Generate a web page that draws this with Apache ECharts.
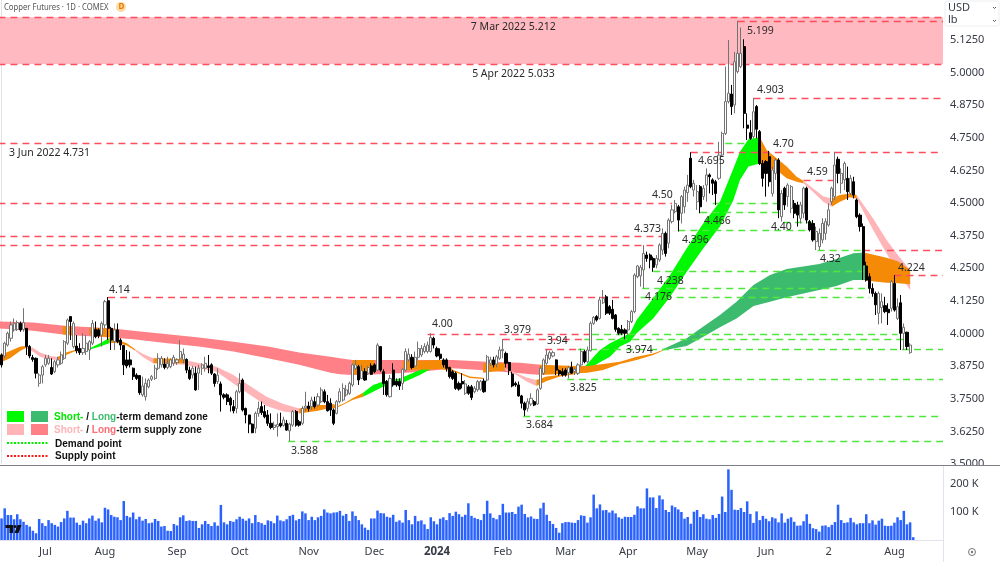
<!DOCTYPE html>
<html>
<head>
<meta charset="utf-8">
<title>Copper Futures</title>
<script src="https://cdn.jsdelivr.net/npm/echarts@6/dist/echarts.min.js"></script>
<style>
html,body{margin:0;padding:0;background:#fff}
#chart{width:1000px;height:562px}
</style>
</head>
<body>
<div id="chart"></div>
<script>
// Daily candles: [open, close, low, high]
const candles = [
[3.918,3.880,3.870,3.924],[3.914,3.963,3.905,3.969],[3.956,4.001,3.950,4.007],[3.982,4.033,3.969,4.046],[4.014,4.039,4.007,4.058],[4.016,4.042,4.010,4.050],[4.039,4.014,4.007,4.046],[4.016,4.042,4.007,4.097],[4.020,3.950,3.918,4.020],[3.950,3.914,3.905,3.956],
[3.908,3.901,3.892,3.918],[3.905,3.848,3.828,3.908],[3.809,3.841,3.796,3.848],[3.841,3.873,3.809,3.880],[3.880,3.905,3.873,3.918],[3.886,3.905,3.880,3.918],[3.870,3.845,3.841,3.905],[3.854,3.892,3.848,3.899],[3.880,3.899,3.870,3.911],[3.886,3.918,3.880,3.931],
[3.905,3.969,3.899,3.975],[3.963,4.052,3.956,4.058],[4.065,4.046,3.975,4.067],[3.950,4.039,3.943,4.046],[3.952,3.934,3.924,3.994],[3.943,3.927,3.918,3.963],[3.927,3.943,3.918,4.001],[3.931,3.963,3.918,3.994],[3.937,3.969,3.899,3.975],[3.963,4.039,3.956,4.052],
[4.016,3.988,3.982,4.046],[4.014,3.991,3.982,4.020],[3.994,4.039,3.950,4.046],[4.033,4.122,4.020,4.129],[4.126,4.020,3.975,4.140],[4.020,3.975,3.937,4.026],[3.969,4.014,3.937,4.039],[4.014,3.969,3.963,4.039],[3.975,3.956,3.937,3.982],[3.954,3.880,3.841,3.956],
[3.899,3.876,3.867,3.937],[3.899,3.880,3.870,3.931],[3.867,3.835,3.822,3.870],[3.841,3.828,3.822,3.848],[3.839,3.773,3.765,3.841],[3.765,3.799,3.758,3.835],[3.758,3.809,3.743,3.828],[3.796,3.822,3.790,3.828],[3.825,3.835,3.818,3.841],[3.828,3.867,3.822,3.880],
[3.867,3.905,3.860,3.924],[3.880,3.905,3.870,3.914],[3.883,3.870,3.863,3.905],[3.870,3.886,3.863,3.911],[3.873,3.899,3.867,3.905],[3.886,3.909,3.876,3.918],[3.889,3.899,3.880,3.905],[3.905,3.931,3.899,3.975],[3.899,3.921,3.886,3.943],[3.901,3.860,3.848,3.905],
[3.860,3.828,3.822,3.873],[3.841,3.867,3.828,3.876],[3.848,3.784,3.781,3.873],[3.848,3.867,3.784,3.880],[3.867,3.880,3.841,3.886],[3.867,3.886,3.854,3.911],[3.876,3.870,3.848,3.918],[3.880,3.848,3.841,3.886],[3.845,3.809,3.796,3.848],[3.816,3.841,3.807,3.867],
[3.807,3.765,3.701,3.816],[3.765,3.756,3.748,3.771],[3.765,3.739,3.726,3.771],[3.752,3.726,3.701,3.758],[3.720,3.704,3.694,3.745],[3.713,3.777,3.694,3.784],[3.777,3.809,3.771,3.848],[3.822,3.707,3.701,3.828],[3.713,3.688,3.656,3.716],[3.688,3.653,3.618,3.688],
[3.653,3.620,3.618,3.656],[3.637,3.694,3.618,3.701],[3.694,3.713,3.681,3.739],[3.720,3.697,3.688,3.739],[3.701,3.681,3.675,3.726],[3.688,3.656,3.646,3.707],[3.656,3.640,3.633,3.694],[3.640,3.649,3.630,3.662],[3.643,3.652,3.605,3.694],[3.656,3.646,3.640,3.697],
[3.648,3.669,3.643,3.681],[3.656,3.630,3.627,3.669],[3.627,3.653,3.588,3.658],[3.649,3.701,3.643,3.707],[3.701,3.649,3.643,3.707],[3.662,3.649,3.643,3.669],[3.656,3.713,3.649,3.722],[3.715,3.722,3.701,3.777],[3.722,3.713,3.701,3.739],[3.720,3.745,3.707,3.758],
[3.739,3.720,3.713,3.758],[3.726,3.758,3.720,3.771],[3.739,3.784,3.733,3.794],[3.777,3.739,3.733,3.786],[3.739,3.704,3.701,3.765],[3.733,3.707,3.684,3.752],[3.707,3.656,3.649,3.713],[3.694,3.739,3.690,3.745],[3.739,3.777,3.733,3.790],[3.745,3.790,3.739,3.809],
[3.765,3.784,3.758,3.803],[3.771,3.809,3.765,3.816],[3.803,3.880,3.796,3.886],[3.867,3.880,3.860,3.899],[3.873,3.822,3.803,3.880],[3.828,3.858,3.825,3.880],[3.854,3.822,3.819,3.867],[3.848,3.870,3.841,3.876],[3.876,3.844,3.841,3.886],[3.880,3.854,3.848,3.886],
[3.860,3.956,3.857,3.963],[3.950,3.860,3.854,3.952],[3.854,3.809,3.765,3.863],[3.816,3.765,3.758,3.822],[3.758,3.828,3.755,3.841],[3.860,3.803,3.796,3.886],[3.816,3.803,3.796,3.828],[3.816,3.799,3.784,3.828],[3.809,3.863,3.784,3.867],[3.860,3.931,3.854,3.943],
[3.899,3.921,3.892,3.943],[3.909,3.870,3.863,3.921],[3.876,3.909,3.870,3.931],[3.909,3.943,3.899,3.969],[3.918,3.943,3.911,3.956],[3.931,3.950,3.924,3.963],[3.931,3.956,3.924,3.969],[3.931,3.985,3.927,4.001],[3.982,3.956,3.943,3.988],[3.943,3.914,3.909,3.950],
[3.921,3.905,3.899,3.943],[3.899,3.880,3.870,3.905],[3.899,3.867,3.854,3.905],[3.870,3.835,3.828,3.873],[3.854,3.828,3.822,3.860],[3.848,3.790,3.784,3.854],[3.809,3.787,3.781,3.816],[3.816,3.807,3.790,3.848],[3.771,3.807,3.765,3.822],[3.796,3.771,3.765,3.803],
[3.796,3.755,3.745,3.803],[3.777,3.790,3.771,3.799],[3.784,3.816,3.777,3.822],[3.786,3.816,3.781,3.822],[3.818,3.777,3.773,3.828],[3.822,3.911,3.816,3.918],[3.886,3.899,3.876,3.911],[3.899,3.880,3.870,3.911],[3.883,3.911,3.870,3.918],[3.905,3.937,3.899,3.950],
[3.934,3.939,3.905,3.979],[3.924,3.886,3.870,3.931],[3.889,3.858,3.841,3.892],[3.845,3.799,3.794,3.854],[3.809,3.803,3.796,3.816],[3.803,3.761,3.758,3.816],[3.761,3.733,3.713,3.765],[3.733,3.707,3.684,3.739],[3.713,3.739,3.701,3.752],[3.730,3.752,3.722,3.771],
[3.739,3.726,3.722,3.745],[3.730,3.784,3.726,3.790],[3.790,3.867,3.784,3.873],[3.848,3.899,3.841,3.905],[3.886,3.918,3.880,3.940],[3.905,3.927,3.899,3.934],[3.914,3.927,3.909,3.934],[3.899,3.860,3.841,3.901],[3.858,3.845,3.838,3.863],[3.854,3.841,3.835,3.867],
[3.860,3.841,3.835,3.867],[3.850,3.869,3.828,3.876],[3.870,3.848,3.845,3.892],[3.854,3.863,3.841,3.870],[3.848,3.880,3.841,3.886],[3.880,3.931,3.873,3.943],[3.931,3.892,3.886,3.937],[3.892,3.937,3.886,3.950],[3.934,4.039,3.931,4.046],[4.039,4.062,4.033,4.067],
[4.065,4.052,4.046,4.071],[4.058,4.129,4.054,4.141],[4.118,4.135,4.113,4.167],[4.141,4.078,4.071,4.148],[4.103,4.078,4.071,4.109],[4.093,4.058,4.054,4.129],[4.071,4.016,4.007,4.075],[4.020,4.001,3.994,4.024],[4.016,4.001,3.994,4.033],[4.014,4.001,3.978,4.020],
[4.014,4.046,3.994,4.052],[4.046,4.084,4.040,4.090],[4.084,4.224,4.078,4.231],[4.218,4.259,4.212,4.263],[4.221,4.254,4.180,4.263],[4.244,4.307,4.173,4.339],[4.301,4.288,4.275,4.314],[4.301,4.282,4.250,4.307],[4.288,4.254,4.237,4.295],[4.263,4.288,4.250,4.301],
[4.282,4.339,4.275,4.346],[4.320,4.384,4.301,4.403],[4.384,4.307,4.295,4.391],[4.346,4.435,4.327,4.442],[4.429,4.474,4.422,4.493],[4.467,4.499,4.461,4.512],[4.486,4.435,4.391,4.493],[4.461,4.525,4.422,4.531],[4.486,4.550,4.461,4.563],[4.540,4.569,4.505,4.608],
[4.672,4.563,4.557,4.695],[4.550,4.576,4.525,4.589],[4.505,4.544,4.474,4.569],[4.563,4.486,4.461,4.569],[4.525,4.557,4.512,4.569],[4.569,4.608,4.505,4.633],[4.608,4.601,4.537,4.614],[4.589,4.576,4.531,4.595],[4.582,4.537,4.493,4.589],[4.595,4.684,4.589,4.735],
[4.684,4.767,4.678,4.774],[4.767,4.889,4.761,5.023],[4.889,4.921,4.882,5.125],[4.918,4.870,4.838,4.953],[4.876,5.042,4.844,5.080],[5.004,5.074,4.997,5.199],[5.023,5.074,5.017,5.173],[5.100,4.844,4.787,5.128],[4.799,4.787,4.742,4.844],[4.770,4.748,4.742,4.818],
[4.755,4.850,4.748,4.903],[4.870,4.783,4.748,4.876],[4.774,4.652,4.646,4.780],[4.652,4.595,4.563,4.665],[4.659,4.614,4.525,4.665],[4.678,4.582,4.563,4.700],[4.537,4.627,4.525,4.640],[4.614,4.665,4.589,4.672],[4.665,4.474,4.442,4.672],[4.448,4.537,4.429,4.550],
[4.557,4.493,4.474,4.563],[4.525,4.569,4.486,4.576],[4.480,4.563,4.461,4.569],[4.499,4.461,4.442,4.512],[4.493,4.454,4.410,4.505],[4.442,4.493,4.422,4.505],[4.461,4.557,4.442,4.563],[4.557,4.435,4.422,4.563],[4.429,4.397,4.391,4.435],[4.422,4.359,4.352,4.435],
[4.352,4.391,4.320,4.410],[4.333,4.384,4.320,4.403],[4.359,4.422,4.346,4.442],[4.384,4.429,4.359,4.442],[4.416,4.474,4.410,4.499],[4.505,4.557,4.493,4.563],[4.525,4.646,4.512,4.697],[4.668,4.614,4.576,4.678],[4.576,4.614,4.537,4.633],[4.589,4.652,4.550,4.659],
[4.595,4.544,4.512,4.640],[4.537,4.595,4.531,4.608],[4.582,4.531,4.518,4.601],[4.512,4.448,4.442,4.518],[4.454,4.410,4.391,4.461],[4.410,4.263,4.205,4.422],[4.259,4.205,4.199,4.275],[4.218,4.173,4.154,4.231],[4.173,4.154,4.141,4.192],[4.154,4.110,4.071,4.161],
[4.078,4.154,4.035,4.161],[4.100,4.122,4.039,4.154],[4.107,4.084,4.078,4.141],[4.093,4.080,4.033,4.116],[4.097,4.199,4.084,4.205],[4.192,4.090,4.084,4.224],[4.058,4.103,4.052,4.135],[4.118,4.001,3.937,4.148],[4.001,4.024,3.937,4.039],[4.005,3.950,3.937,4.007],
[3.927,3.956,3.922,3.963]
];

// Daily contract volume, in thousands
const volumesK = [
77,113,89,89,74,92,74,65,54,48,
33,24,75,60,50,71,60,54,48,64,
77,104,80,80,62,54,69,60,77,87,
69,77,63,115,109,89,83,81,71,139,
86,81,98,74,83,69,75,60,62,75,
68,48,50,33,32,57,52,81,88,68,
70,68,68,43,56,68,57,50,63,51,
125,63,56,68,65,74,83,76,69,77,
60,89,64,60,54,70,67,60,87,70,
67,74,86,90,70,75,102,95,71,83,
71,81,86,109,98,95,98,99,104,87,
93,68,102,86,71,56,44,36,77,77,
105,96,95,83,80,90,65,70,62,107,
71,56,86,67,70,56,39,81,67,56,
76,81,71,96,86,101,92,83,90,131,
86,79,75,71,93,140,95,79,74,89,
129,98,98,100,93,119,126,93,81,84,
76,75,113,133,90,68,57,43,26,60,
64,64,62,61,71,88,86,62,81,162,
113,127,106,107,98,105,95,81,76,83,
82,82,90,120,113,113,184,152,152,114,
159,145,107,100,123,117,109,100,76,82,
58,101,107,82,92,76,74,89,79,93,
155,100,252,179,108,107,114,100,138,93,
61,102,71,86,76,67,81,77,63,95,
62,76,81,65,51,52,67,92,58,42,
39,30,51,52,46,54,64,126,71,61,
63,79,63,56,60,60,92,60,70,55,
69,76,51,50,51,62,81,71,104,56,
63,10
];

// Time-axis labels, keyed by bar index
const monthTicks = {14:'Jul',33:'Aug',56:'Sep',76:'Oct',98:'Nov',119:'Dec',139:'2024',160:'Feb',180:'Mar',200:'Apr',222:'May',244:'Jun',264:'2',285:'Aug'};
const barSlots = 301;
const categories = Array.from({length: barSlots}, (_, i) => monthTicks[i] || '');

// Price ribbons: [bar position, upper price, lower price]
const supplyZone = [[-1,5.212,5.033],[301,5.212,5.033]];

const longSupplyBand = [
[-1,4.046,4.020],[10,4.042,4.011],[21,4.029,3.994],[35,4.020,3.985],[42,4.011,3.978],[53,3.997,3.963],[63,3.985,3.950],[74,3.969,3.931],[85,3.950,3.905],[95,3.927,3.880],[105,3.911,3.850],[108,3.905,3.844],[112,3.899,3.841],[123,3.899,3.845],[134,3.899,3.854],[144,3.899,3.867],[155,3.892,3.858],[165.5,3.888,3.848],[172,3.880,3.841]
];
const longDemandBand = [
[211,3.940,3.935],[218.7,3.982,3.952],[224,4.027,3.988],[229.3,4.071,4.024],[234.6,4.122,4.058],[240,4.186,4.106],[245.3,4.224,4.122],[250.6,4.247,4.139],[261,4.267,4.167],[266.5,4.286,4.182],[271.9,4.308,4.205],[275.6,4.311,4.205]
];
const shortSupplyBands = [
[[8,3.950,3.943],[10,3.946,3.931],[12.3,3.927,3.911],[15.5,3.914,3.901],[18.6,3.909,3.899]],
[[42.6,3.940,3.935],[45.2,3.922,3.909],[48.4,3.905,3.886],[58.5,3.899,3.880],[63.3,3.886,3.867],[68.6,3.873,3.854],[74,3.841,3.809],[79.3,3.799,3.765],[84.6,3.758,3.722],[90,3.730,3.701],[95,3.713,3.694]],
[[160.6,3.870,3.860],[164.4,3.848,3.841],[167.6,3.832,3.816],[170.7,3.822,3.799]],
[[255.9,4.586,4.576],[259,4.557,4.544],[262.3,4.525,4.505],[265,4.518,4.486]],
[[272.9,4.531,4.518],[278.2,4.441,4.397],[282.5,4.359,4.307],[285.7,4.307,4.244],[290,4.244,4.167]]
];
const shortDemandBands = [
[[27.7,3.941,3.937],[31.4,3.963,3.950],[34.4,3.983,3.963]],
[[115.4,3.773,3.758],[118.6,3.803,3.777],[121.8,3.816,3.796],[127.1,3.828,3.807],[133.5,3.860,3.841],[137.8,3.892,3.870],[139.9,3.895,3.886]],
[[183.5,3.848,3.845],[186.7,3.880,3.858],[191,3.937,3.890],[194.2,3.963,3.911],[197.4,3.982,3.950],[200.6,4.001,3.969],[202.7,4.052,4.001],[208,4.135,4.058],[213.4,4.224,4.141],[218.7,4.327,4.237],[224,4.423,4.327],[229.3,4.505,4.410],[233.6,4.633,4.512],[235.7,4.697,4.589],[238.4,4.745,4.640],[242,4.752,4.652]]
];
// Stretches where the short and long averages disagree
const mixedBands = [
[[-1,3.914,3.886],[2.7,3.933,3.905],[6,3.950,3.934],[7.8,3.952,3.945]],
[[18,3.911,3.899],[20.8,3.928,3.919],[23.4,3.937,3.932],[27.7,3.941,3.937]],
[[19.5,4.028,3.997],[22.5,4.026,3.993]],
[[28,4.023,3.994],[37,4.017,3.982]],
[[34.4,3.983,3.963],[36.7,3.978,3.965],[40,3.963,3.954],[42.6,3.940,3.935]],
[[48.5,3.905,3.886],[58.5,3.902,3.886]],
[[95,3.713,3.694],[101,3.726,3.704],[104,3.726,3.713],[106,3.730,3.713],[107,3.720,3.716],[110,3.737,3.733],[112,3.752,3.745],[115.4,3.773,3.758]],
[[112,3.899,3.841],[119,3.899,3.848]],
[[128,3.896,3.860],[140.5,3.899,3.863],[144.2,3.860,3.855],[149.5,3.835,3.830],[153.7,3.831,3.826]],
[[153.7,3.886,3.850],[160.6,3.886,3.858]],
[[170.7,3.822,3.799],[174,3.835,3.818],[178.2,3.841,3.835],[183.5,3.848,3.845]],
[[171.8,3.880,3.841],[183.5,3.876,3.848],[187,3.876,3.850],[192,3.883,3.860],[197.4,3.892,3.883],[202.7,3.911,3.899],[208,3.924,3.918],[211,3.937,3.934]],
[[242,4.752,4.652],[244.2,4.704,4.633],[247.4,4.672,4.627],[250.6,4.640,4.595],[253.8,4.601,4.582],[255.9,4.586,4.576]],
[[265,4.518,4.486],[267.6,4.531,4.505],[270.8,4.537,4.522],[272.9,4.531,4.518]],
[[275.6,4.310,4.203],[282.5,4.291,4.195],[286.2,4.276,4.193],[290,4.244,4.189]]
];

// Horizontal levels: [first bar, last bar, price]
const supplyLevels = [
[-1,301,5.212],[235,301,5.199],[-1,301,5.033],[240,301,4.903],[-1,229,4.731],[220,301,4.695],[256,265.5,4.59],
[-1,214,4.50],[-1,211,4.373],[-1,212,4.339],[275,301,4.32],[285,301,4.224],[34,200.5,4.14],[136,188,4.00],
[160,185.5,3.979],[173.5,183.7,3.94]
];
const demandLevels = [
[231,238,4.731],[227,247.5,4.50],[223,249.5,4.466],[249.5,259,4.429],[216,258,4.396],[260.5,275,4.32],
[208,275,4.238],[204.5,277,4.176],[204,277,4.14],[188.5,286,4.00],[186,288,3.979],[184,301,3.94],
[180.5,301,3.825],[166.5,301,3.684],[91.5,301,3.588]
];

// Annotations: [text, bar position, price at text centre]
const levelLabels = [
['7 Mar 2022 5.212',149.8,5.175],['5 Apr 2022 5.033',150.2,4.995],['3 Jun 2022 4.731',2.4,4.692],
['5.199',237.9,5.160],['4.903',241.1,4.933],['4.70',246.2,4.727],['4.695',222.3,4.661],['4.59',257.1,4.619],
['4.50',207.6,4.531],['4.466',224.2,4.431],['4.396',217.2,4.359],['4.373',201.9,4.401],['4.40',245.6,4.408],
['4.32',261.2,4.286],['4.238',209.2,4.201],['4.176',205.4,4.140],['4.224',286.1,4.251],['4.14',34.3,4.167],
['4.00',137.4,4.037],['3.979',160.4,4.014],['3.94',174.1,3.971],['3.974',199.3,3.937],['3.825',181.4,3.791],
['3.684',167.4,3.649],['3.588',92.4,3.550]
];

const PINK = '#ffb4b8', RED = '#ff8087', GREEN = '#00f800', SEA = '#3cbb6f', ORANGE = '#f58a07';
const SUPPLY_LINE = '#ff4d5e', DEMAND_LINE = '#4fe63c';
const UI_FONT = '"Noto Sans", sans-serif';

const coloredBands = [
  {color: '#ffb9c1', rows: supplyZone},
  {color: RED, rows: longSupplyBand},
  {color: SEA, rows: longDemandBand},
  ...shortSupplyBands.map(rows => ({color: PINK, rows})),
  ...shortDemandBands.map(rows => ({color: GREEN, rows})),
  ...mixedBands.map(rows => ({color: ORANGE, rows}))
];
const coloredLevels = [
  ...supplyLevels.map(l => ({color: SUPPLY_LINE, l})),
  ...demandLevels.map(l => ({color: DEMAND_LINE, l}))
];

function drawBand(params, api) {
  const band = coloredBands[params.dataIndex];
  const upper = band.rows.map(r => api.coord([r[0], r[1]]));
  const lower = band.rows.map(r => api.coord([r[0], r[2]])).reverse();
  return {type: 'polygon', shape: {points: upper.concat(lower)}, style: {fill: band.color}};
}
function drawLevel(params, api) {
  const item = coloredLevels[params.dataIndex];
  const a = api.coord([item.l[0], item.l[2]]);
  const b = api.coord([item.l[1], item.l[2]]);
  const y = Math.round(a[1]) + 0.5;
  return {type: 'line', shape: {x1: a[0], y1: y, x2: b[0], y2: y},
          style: {stroke: item.color, lineWidth: 1.4, lineDash: [7, 5], fill: null}};
}
function drawLabel(params, api) {
  const t = levelLabels[params.dataIndex];
  const p = api.coord([t[1], t[2]]);
  return {type: 'text', x: p[0], y: p[1],
          style: {text: t[0], fill: '#2a2a2a', font: '10.5px ' + UI_FONT, textAlign: 'left', textVerticalAlign: 'middle'}};
}

const chart = echarts.init(document.getElementById('chart'), null, {renderer: 'canvas'});

const KEY_FONT = 'bold 10px "Liberation Sans"';
const legendText = (rest, y, accentA, accentB, a, b) => ({
  type: 'text', left: 54, top: y, z: 20,
  style: {
    text: '{a|' + a + '}{n| / }{b|' + b + '}{n|' + rest + '}',
    rich: {
      a: {fill: accentA, font: KEY_FONT},
      b: {fill: accentB, font: KEY_FONT},
      n: {fill: '#111', font: KEY_FONT}
    }
  }
});

chart.setOption({
  animation: false,
  backgroundColor: '#fff',
  textStyle: {fontFamily: UI_FONT},
  grid: [
    {left: 0, right: 57, top: 0, height: 464},
    {left: 0, right: 57, top: 466, height: 74}
  ],
  xAxis: [
    {type: 'category', gridIndex: 0, data: categories, show: false},
    {type: 'category', gridIndex: 1, data: categories,
     axisLine: {lineStyle: {color: '#e0e3eb'}}, axisTick: {show: false}, splitLine: {show: false},
     axisLabel: {
       interval: i => monthTicks[i] !== undefined, hideOverlap: false, margin: 6,
       color: '#363a45', fontSize: 11, fontFamily: UI_FONT,
       formatter: v => v === '2024' ? '{y|2024}' : v,
       rich: {y: {fontWeight: 'bold', fontSize: 11.5, color: '#363a45', fontFamily: UI_FONT}}
     }},
    {type: 'value', gridIndex: 0, min: -0.5, max: 300.5, show: false}
  ],
  yAxis: [
    {type: 'value', gridIndex: 0, position: 'right', min: 3.5, max: 5.2785, interval: 0.125, scale: true,
     axisLine: {show: true, lineStyle: {color: '#e0e3eb'}}, axisTick: {show: false}, splitLine: {show: false},
     axisLabel: {showMaxLabel: false, color: '#363a45', fontSize: 11, margin: 7, fontFamily: UI_FONT, padding: [2, 0, 0, 0],
                 formatter: v => v.toFixed(4)}},
    {type: 'value', gridIndex: 1, position: 'right', min: 0, max: 264, interval: 100, z: 6,
     axisLine: {show: true, lineStyle: {color: '#e0e3eb'}}, axisTick: {show: false}, splitLine: {show: false},
     axisLabel: {showMinLabel: false, showMaxLabel: false, color: '#363a45', fontSize: 11, margin: 7, fontFamily: UI_FONT, padding: [2, 0, 0, 0],
                 formatter: v => v + ' K'}}
  ],
  series: [
    {type: 'custom', name: 'zones', xAxisIndex: 2, yAxisIndex: 0, z: 1, clip: true, silent: true,
     renderItem: drawBand, data: coloredBands.map((_, i) => [i, 4])},
    {type: 'custom', name: 'levels', xAxisIndex: 2, yAxisIndex: 0, z: 2, clip: true, silent: true,
     renderItem: drawLevel, data: coloredLevels.map((_, i) => [i, 4])},
    {type: 'candlestick', name: 'Copper', xAxisIndex: 0, yAxisIndex: 0, z: 3, barWidth: 2.6, clip: true,
     data: candles,
     itemStyle: {color: '#ffffff', color0: '#000000', borderColor: '#737373', borderColor0: '#000000', borderWidth: 1}},
    {type: 'custom', name: 'notes', xAxisIndex: 2, yAxisIndex: 0, z: 5, clip: false, silent: true,
     renderItem: drawLabel, data: levelLabels.map((_, i) => [i, 4])},
    {type: 'bar', name: 'Volume', xAxisIndex: 1, yAxisIndex: 1, z: 3, barWidth: 2.5,
     data: volumesK, itemStyle: {color: '#2962ff'}}
  ],
  graphic: [
    // mask below the price pane and pane separator
    {type: 'rect', z: 4, shape: {x: 944, y: 466, width: 56, height: 18}, style: {fill: '#fff'}},
    {type: 'line', z: 7, shape: {x1: 0, y1: 465.5, x2: 1000, y2: 465.5}, style: {stroke: '#7c7f88', lineWidth: 1}},
    {type: 'line', z: 7, shape: {x1: 943.5, y1: 540, x2: 943.5, y2: 562}, style: {stroke: '#e0e3eb', lineWidth: 1}},

    // header
    {type: 'text', z: 20, x: 4, y: 2, scaleX: 0.81, style: {text: 'Copper Futures · 1D · COMEX', fill: '#555', font: '9.5px ' + UI_FONT}},
    {type: 'circle', z: 20, shape: {cx: 121, cy: 7, r: 5}, style: {fill: '#ffd9a0'}},
    {type: 'text', z: 21, x: 118.5, y: 2.5, style: {text: 'D', fill: '#e07b00', font: 'bold 8px ' + UI_FONT}},

    // currency and unit selector
    {type: 'rect', z: 20, shape: {x: 945, y: 1, width: 54, height: 25, r: 2}, style: {fill: '#fff', stroke: '#eceef2', lineWidth: 1}},
    {type: 'text', z: 21, left: 948, top: 2, style: {text: 'USD', fill: '#363a45', font: '11px ' + UI_FONT}},
    {type: 'text', z: 21, left: 948, top: 14, style: {text: 'lb', fill: '#363a45', font: '11px ' + UI_FONT}},
    {type: 'polyline', z: 21, shape: {points: [[993, 7], [994.5, 8.5], [996, 7]]}, style: {stroke: '#555', fill: null, lineWidth: 1}},
    {type: 'polyline', z: 21, shape: {points: [[993, 20], [994.5, 21.5], [996, 20]]}, style: {stroke: '#555', fill: null, lineWidth: 1}},

    // key
    {type: 'rect', z: 20, shape: {x: 7, y: 411, width: 17, height: 11}, style: {fill: GREEN}},
    {type: 'rect', z: 20, shape: {x: 31, y: 411, width: 17, height: 11}, style: {fill: SEA}},
    {type: 'rect', z: 20, shape: {x: 7, y: 424, width: 17, height: 11}, style: {fill: PINK}},
    {type: 'rect', z: 20, shape: {x: 31, y: 424, width: 17, height: 11}, style: {fill: RED}},
    {type: 'line', z: 20, shape: {x1: 7, y1: 443, x2: 48, y2: 443}, style: {stroke: '#00ee00', lineWidth: 2, lineDash: [2, 1.5]}},
    {type: 'line', z: 20, shape: {x1: 7, y1: 456, x2: 48, y2: 456}, style: {stroke: '#ff1a1a', lineWidth: 2, lineDash: [2, 1.5]}},
    legendText('-term demand zone', 412, '#00e600', SEA, 'Short-', 'Long'),
    legendText('-term supply zone', 425, PINK, '#ff6f76', 'Short-', 'Long'),
    {type: 'text', z: 20, left: 55, top: 439, style: {text: 'Demand point', fill: '#111', font: KEY_FONT}},
    {type: 'text', z: 20, left: 55, top: 451, style: {text: 'Supply point', fill: '#111', font: KEY_FONT}},

    // vendor mark
    {type: 'rect', z: 20, shape: {x: 5.5, y: 525, width: 7.5, height: 3}, style: {fill: '#111'}},
    {type: 'rect', z: 20, shape: {x: 9.5, y: 528, width: 3.5, height: 5}, style: {fill: '#111'}},
    {type: 'circle', z: 20, shape: {cx: 15, cy: 526.5, r: 1.5}, style: {fill: '#111'}},
    {type: 'polygon', z: 20, shape: {points: [[17.5, 525], [21.5, 525], [18.5, 533], [14.5, 533]]}, style: {fill: '#111'}},

    // settings glyph
    {type: 'circle', z: 20, shape: {cx: 972, cy: 552, r: 3.5}, style: {fill: null, stroke: '#777', lineWidth: 1}},
    {type: 'circle', z: 20, shape: {cx: 972, cy: 552, r: 1.2}, style: {fill: '#777'}}
  ]
});
</script>
</body>
</html>
